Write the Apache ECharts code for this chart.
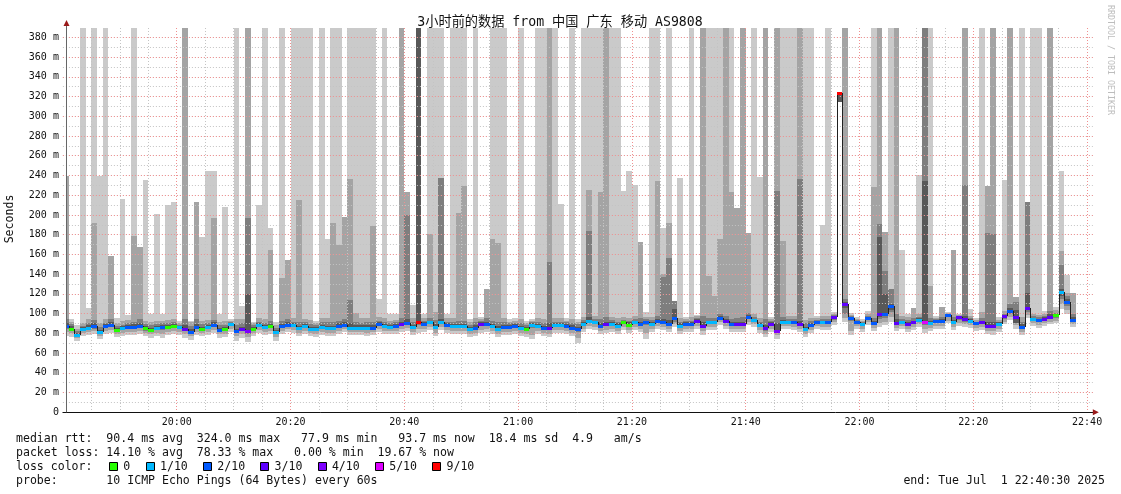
<!DOCTYPE html>
<html><head><meta charset="utf-8">
<script src="https://cdn.jsdelivr.net/npm/echarts@6/dist/echarts.min.js"></script>
<style>html,body{margin:0;padding:0;background:#fff}#c{width:1121px;height:494px}</style>
</head><body><div id="c"></div>
<script>
// time axis: minutes since 19:40:00 ; one column per minute
const windowStart = 0.5, windowEnd = 180.5, axisMin = 0, axisMax = 181, yTop = 389.4;
const timeTicks = [20, 40, 60, 80, 100, 120, 140, 160, 180];
const timeLabels = ['20:00','20:20','20:40','21:00','21:20','21:40','22:00','22:20','22:40'];

// median rtt (ms) per minute
const med = [
87,84.4,78.3,84,85.7,87,81,87.5,88.4,83.4,
85.4,86.4,86.4,87.1,85,83.4,85.4,86,86.4,87.7,
86,84.4,81.7,86.4,84.4,86.4,88.5,83.4,84,89,
82,84,82.4,84.5,88,86,87,81,87,88.5,
88,85,87,84.4,84.4,86.5,85.5,85,87,88.5,
85.5,85.5,85.5,85.5,85.5,89,87,86.5,87.5,89.5,
90,86,91.7,89.5,91,86,91.3,88.5,87,87.2,
87,84.5,85.5,89.5,89.5,87,84.7,86.5,86.5,87,
85.5,84.5,88,87,85,85,88,88,87,85.7,
84,89.5,92.5,91,87.5,89,89.8,87.8,91,88.7,
91.3,89.8,91,89.3,92.5,91,89.5,95.2,87.8,89.5,
89.5,92.8,87.5,91,91,96,92.5,89.5,89.8,89.8,
97,94,88.7,85,89.5,82.5,92,92,91.3,89.5,
84,88.7,92,91.7,91.7,96.3,324,110.2,95.8,92,
89.8,96,90,100,100,107.7,90.5,92,89.8,91,
94,91.7,90,92.5,92.5,99,91.5,96.2,94.6,93,
90,91,87.3,87.3,89.6,97.5,103,97,86.5,105.7,
95,93.5,95,97,98.5,121.9,111.7,94];

// lost pings out of 10 per minute
const loss = [
2,0,1,1,1,2,1,2,2,0,
1,2,2,2,0,0,1,2,0,0,
1,3,2,2,0,1,2,2,0,1,
2,3,4,0,1,1,0,1,2,2,
1,1,1,1,1,1,1,1,2,2,
1,1,1,1,2,2,1,1,2,3,
2,1,9,2,1,1,1,2,1,1,
1,1,2,3,2,1,1,2,2,2,
1,0,1,1,2,3,1,1,2,2,
2,1,1,1,2,3,1,1,0,0,
1,2,2,1,2,2,2,2,1,2,
2,3,3,1,1,2,3,2,3,3,
2,1,1,3,3,4,1,1,2,3,
1,2,2,1,2,3,9,3,2,2,
1,2,2,3,2,2,3,1,3,3,
1,5,1,2,2,2,1,3,3,1,
2,3,3,3,1,3,2,3,2,3,
1,2,3,3,0,1,2,2];

// smoke: ping 10 (top of outer band), 999 = beyond chart top
const p10 = [
239,95,88,999,106,999,239,999,158,96,
216,99,999,168,235,100,201,100,210,213,
93,999,93,213,178,244,244,100,208,95,
999,108,999,92,210,999,187,92,999,154,
999,999,999,999,93,999,176,999,999,198,
999,999,999,999,999,115,999,100,100,999,
223,109,999,100,999,999,999,100,999,999,
999,95,999,97,125,999,999,999,95,96,
999,93,95,999,999,999,999,211,96,999,
95,999,999,999,999,999,999,999,224,245,
230,173,102,999,999,187,999,113,237,97,
999,99,999,999,999,999,999,999,207,999,
182,999,238,999,97,999,999,999,999,999,
999,999,98,190,999,102,324,999,101,97,
95,103,999,999,183,999,999,164,100,106,
240,999,999,98,107,102,164,100,999,105,
96,999,229,999,97,235,999,117,999,213,
999,999,103,999,107,245,139,121];
const p9 = [
239,92,84,90,95,192,90,95,158,90,
93,94,179,168,93,92,93,93,94,95,
90,999,92,213,93,94,197,92,93,93,
95,95,999,90,96,95,164,88,136,154,
96,215,95,94,90,96,96,192,170,198,
236,101,96,96,189,97,96,93,94,999,
223,96,999,96,181,102,237,96,96,202,
229,91,96,95,125,176,172,96,92,93,
95,90,93,96,95,999,96,96,93,95,
92,97,225,98,223,999,97,96,97,96,
98,173,97,97,234,140,192,113,96,95,
97,98,999,138,118,176,999,223,207,999,
182,100,96,999,95,999,174,98,98,999,
94,96,96,98,98,100,324,999,99,95,
93,100,228,999,183,125,999,98,97,106,
100,999,128,96,107,101,164,99,999,98,
94,102,229,999,94,103,999,117,97,213,
100,99,100,999,104,163,121,121];
const p8 = [
95,89,82,87,90,94,86,90,95,87,
88,90,92,95,89,88,89,90,90,91,
88,95,87,95,89,90,94,88,88,91,
88,90,197,88,92,90,93,85,93,95,
92,92,92,89,88,91,91,91,93,95,
114,92,90,91,92,93,92,90,91,96,
200,92,999,93,96,94,237,92,92,93,
93,88,91,93,96,93,91,91,90,90,
90,88,91,92,90,152,92,92,91,90,
89,94,184,95,95,97,94,92,94,93,
95,96,95,94,98,137,156,113,92,93,
93,96,98,96,96,100,98,95,96,97,
101,97,92,95,93,224,97,95,95,236,
90,93,94,95,95,99,324,115,98,94,
91,98,96,191,143,125,100,95,94,96,
97,999,96,95,97,100,97,98,230,96,
92,96,182,181,92,100,110,112,92,213,
98,97,98,103,101,149,118,100];
const p7 = [
90,87,80,86,88,90,83,89,91,85,
87,88,89,90,87,85,87,88,88,89,
87,88,84,89,86,88,91,85,86,90,
84,86,120,86,90,88,89,83,89,91,
90,87,89,86,86,88,87,87,90,91,
90,88,88,88,88,91,89,88,89,92,
95,88,999,91,93,89,95,90,89,89,
89,86,88,91,92,89,87,88,88,89,
87,86,90,89,87,90,90,90,89,88,
86,91,97,93,90,92,92,90,93,91,
93,92,93,91,95,95,94,105,90,91,
91,95,92,93,93,98,95,92,92,92,
99,95,90,88,91,90,94,93,93,93,
86,90,93,93,93,98,324,112,97,93,
90,97,93,178,120,110,95,93,92,93,
96,234,93,94,95,100,94,97,98,95,
91,93,92,92,91,99,106,104,89,121,
96,95,97,100,100,125,115,97];
const p1 = [
77,76,72,77,78,79,74,79,80,76,
77,78,78,79,77,75,77,75,78,79,
78,75,73,78,77,78,80,75,76,81,
72,75,71,77,80,78,79,72,79,81,
80,77,79,77,76,78,77,77,79,81,
78,78,78,77,78,81,79,79,79,81,
82,78,80,81,83,77,83,80,79,79,
79,76,77,80,81,79,76,78,78,79,
77,76,74,79,77,76,80,80,79,77,
70,81,84,83,79,80,81,79,83,80,
83,81,74,81,84,83,81,86,79,81,
81,84,78,83,83,88,84,81,81,81,
88,86,80,76,81,74,84,84,83,81,
76,80,84,83,83,88,314,92,78,84,
81,88,82,86,88,92,82,84,81,83,
86,80,82,84,84,90,83,87,86,85,
82,83,79,78,81,89,94,84,78,96,
87,85,87,89,90,105,100,86];
const p2 = [
81,80,75,80,81,82,77,82,83,79,
80,81,81,82,80,79,80,79,81,82,
81,79,77,81,80,81,83,79,79,84,
77,79,76,80,83,81,82,76,82,84,
83,80,82,80,79,81,80,80,82,84,
81,81,81,80,81,84,82,82,82,84,
85,81,84,84,86,80,86,83,82,82,
82,79,80,83,84,82,79,81,81,82,
80,79,78,82,80,79,83,83,82,80,
75,84,87,86,82,83,84,82,86,83,
86,84,80,84,87,86,84,89,82,84,
84,87,82,86,86,91,87,84,84,84,
91,89,83,79,84,78,87,87,86,84,
79,83,87,86,86,91,314,96,82,87,
84,91,85,90,92,97,85,87,84,86,
89,84,85,87,87,93,86,90,89,88,
85,86,82,82,84,92,97,88,81,99,
90,88,90,92,93,110,104,89];
const p3 = [
84,82,77,82,83,84,79,85,86,81,
83,84,84,85,82,81,83,83,84,85,
84,82,79,84,82,84,86,81,82,87,
80,82,79,82,86,84,85,79,85,86,
86,83,85,82,82,84,83,83,85,86,
83,83,83,83,83,87,85,84,85,87,
88,84,88,87,89,84,89,86,85,85,
85,82,83,87,87,85,82,84,84,85,
83,82,85,85,83,83,86,86,85,83,
81,87,90,89,85,87,87,85,89,86,
89,87,88,87,90,89,87,92,85,87,
87,90,85,89,89,94,90,87,87,87,
95,92,86,82,87,80,90,90,89,87,
82,86,90,89,89,94,314,100,93,90,
87,94,88,95,96,102,88,90,87,89,
92,88,88,90,90,97,89,94,92,91,
88,89,85,85,87,95,100,91,84,102,
93,91,93,95,96,115,108,92];
const p4 = [
85.5,83,77,83,84,85.5,80,86,87,82,
84,85,85,85.5,83.5,82,84,84.5,85,86,
84.5,83,80,85,83,85,87,82,82.5,87.5,
80.5,82.5,81,83,86.5,84.5,85.5,79.5,85.5,87,
86.5,83.5,85.5,83,83,85,84,83.5,85.5,87,
84,84,84,84,84,87.5,85.5,85,86,88,
88.5,84.5,90,88,89.5,84.5,90,87,85.5,85.7,
85.5,83,84,88,88,85.5,83,85,85,85.5,
84,83,86.5,85.5,83.5,83.5,86.5,86.5,85.5,84,
82.5,88,91,89.5,86,87.5,88.3,86.3,89.5,87.2,
89.8,88.3,89.5,87.8,91,89.5,88,93.5,86.3,88,
88,91.3,86,89.5,89.5,94.5,91,88,88.3,88.3,
95.5,92.5,87.2,83.5,88,81,90.5,90.5,89.8,88,
82.5,87.2,90.5,90.2,90.2,94.8,314,106,94.3,90.5,
88.3,94.5,88.5,97,98,104,89,90.5,88.3,89.5,
92.5,90,88.5,91,91,97.5,90,94.7,93,91.5,
88.5,89.5,85.8,85.8,88,96,101,90,85,104,
93.5,92,93.5,95.5,97,118,110,92.5];

const smokeColors = ['#cacaca','#a4a4a4','#7e7e7e','#585858'];
const lossLabels = ['0','1/10','2/10','3/10','4/10','5/10','9/10'];
const lossColors = ['#26ff00','#00b8ff','#0059ff','#5e00ff','#7e00ff','#dd00ff','#ff0000'];
const lossLevel = [0,1,2,3,4,5,5,5,5,6,6];

const statLines = [
 'median rtt:  90.4 ms avg  324.0 ms max   77.9 ms min   93.7 ms now  18.4 ms sd  4.9   am/s',
 'packet loss: 14.10 % avg  78.33 % max   0.00 % min  19.67 % now',
 'loss color:',
 'probe:       10 ICMP Echo Pings (64 Bytes) every 60s'
];
const endText = 'end: Tue Jul  1 22:40:30 2025';
const titleText = '3小时前的数据 from 中国 广东 移动 AS9808';

const bandLo = [p1,p2,p3,p4], bandHi = [p10,p9,p8,p7];
const colData = med.map((m,i)=>[i,m]);
const mono = "'DejaVu Sans Mono', 'Noto Sans CJK SC', monospace";

const chart = echarts.init(document.getElementById('c'), null, {renderer:'canvas', width:1121, height:494});

function colX(api, c){
  const xa = Math.round(api.coord([Math.max(c, windowStart), 0])[0]);
  const xb = Math.round(api.coord([Math.min(c+1, windowEnd), 0])[0]);
  return [xa, xb];
}

const gridLine = (color)=>({show:true, lineStyle:{color, width:1, type:[1,2]}, showMinLine:false, showMaxLine:false});

chart.setOption({
  animation:false,
  grid:{left:62.9, right:28.2, top:28, bottom:81.7, containLabel:false, outerBoundsMode:'none'},
  xAxis:[
    {type:'value', min:axisMin, max:axisMax, interval:5, z:2,
     axisLine:{show:false}, axisTick:{show:false}, axisLabel:{show:false},
     splitLine:gridLine('#c4c4c4')},
    {type:'value', min:axisMin, max:axisMax, interval:20, position:'bottom', z:2,
     axisLine:{show:true, onZero:false, lineStyle:{color:'#111', width:1}}, axisTick:{show:false},
     axisLabel:{show:true, margin:5, hideOverlap:false, color:'#111', fontFamily:mono, fontSize:10,
       formatter:(v)=>{const k=timeTicks.indexOf(v); return k<0?'':timeLabels[k];}},
     splitLine:gridLine('#f09090')}
  ],
  yAxis:[
    {type:'value', min:0, max:yTop, interval:10, z:2,
     axisLine:{show:false}, axisTick:{show:false}, axisLabel:{show:false},
     splitLine:gridLine('#c4c4c4')},
    {type:'value', min:0, max:yTop, interval:20, position:'left', z:2,
     axisLine:{show:false}, axisTick:{show:false},
     axisLabel:{show:true, margin:4, hideOverlap:false, color:'#111', fontFamily:mono, fontSize:10,
       formatter:(v)=> (v%20!==0 ? '' : (v===0?'0':v+' m'))},
     splitLine:gridLine('#f09090')}
  ],
  series:[
    {type:'custom', name:'smoke', z:1, silent:true, xAxisIndex:0, yAxisIndex:0,
     encode:{x:0,y:1}, data:colData,
     renderItem:(params, api)=>{
       const c = api.value(0);
       const [xa, xb] = colX(api, c);
       const children = [];
       for (let k=0;k<4;k++){
         const hi = Math.min(bandHi[k][c], yTop), lo = bandLo[k][c];
         const ya = Math.round(api.coord([c, hi])[1]);
         const yb = Math.round(api.coord([c, lo])[1]);
         if (yb>ya && xb>xa) children.push({type:'rect', shape:{x:xa,y:ya,width:xb-xa,height:yb-ya}, style:{fill:smokeColors[k]}});
       }
       return {type:'group', children};
     }},
    {type:'custom', name:'median', z:3, silent:true, xAxisIndex:0, yAxisIndex:0,
     encode:{x:0,y:1}, data:colData,
     renderItem:(params, api)=>{
       const c = api.value(0);
       const [xa, xb] = colX(api, c);
       const yr = Math.round(api.coord([c, med[c]])[1]);
       const children = [];
       if (c>0){
         const yp = Math.round(api.coord([c-1, med[c-1]])[1]);
         children.push({type:'line', shape:{x1:xa+0.5,y1:yp,x2:xa+0.5,y2:yr}, style:{stroke:'#202020', lineWidth:1}});
       }
       children.push({type:'rect', shape:{x:xa,y:yr-1,width:xb-xa,height:3}, style:{fill:lossColors[lossLevel[loss[c]]]}});
       return {type:'group', children};
     }}
  ]
});

// decorations placed from axis positions
const pBL = chart.convertToPixel({xAxisIndex:0,yAxisIndex:0},[windowStart,0]);
const pTL = chart.convertToPixel({xAxisIndex:0,yAxisIndex:0},[windowStart,yTop]);
const pBR = chart.convertToPixel({xAxisIndex:0,yAxisIndex:0},[axisMax,0]);
const ax = Math.round(pBL[0])+0.5;
const els = [];
els.push({type:'line', z:5, shape:{x1:ax,y1:pBL[1],x2:ax,y2:pTL[1]-3}, style:{stroke:'#666', lineWidth:1}});
els.push({type:'polygon', z:5, shape:{points:[[ax-3,pTL[1]-2],[ax+3,pTL[1]-2],[ax,pTL[1]-8]]}, style:{fill:'#9a1a1a'}});
els.push({type:'polygon', z:5, shape:{points:[[pBR[0],pBR[1]-3],[pBR[0],pBR[1]+3],[pBR[0]+6,pBR[1]]]}, style:{fill:'#9a1a1a'}});
const txt = (s, x, y, opt={})=>({type:'text', z:5, x, y, rotation:opt.rot||0,
  style:{text:s, fill:opt.color||'#111', font:(opt.size||11.55)+'px '+mono,
    align:opt.align||'left', verticalAlign:'middle', textAlign:opt.align||'left', textVerticalAlign:'middle'}});
els.push(txt(titleText, 560, 22.5, {align:'center', size:13.2}));
els.push(txt('Seconds', 10, 219, {align:'center', rot:Math.PI/2}));
els.push(txt('RRDTOOL / TOBI OETIKER', 1110, 60, {align:'center', rot:-Math.PI/2, size:8.3, color:'#bdbdbd'}));
const lineY = [438.5, 452.5, 466.5, 480.5];
statLines.forEach((s,i)=>els.push(txt(s, 16, lineY[i])));
els.push(txt(endText, 1105, lineY[3], {align:'right'}));
const boxX = [109, 145.7, 203, 260.3, 317.6, 374.9, 432.2];
lossLabels.forEach((l,i)=>{
  els.push({type:'rect', z:5, shape:{x:Math.round(boxX[i])+0.5, y:462.5, width:8, height:8}, style:{fill:lossColors[i], stroke:'#000', lineWidth:1}});
  els.push(txt(l, boxX[i]+14.3, lineY[2]));
});
chart.setOption({graphic:{elements:els}});
</script>
</body></html>
